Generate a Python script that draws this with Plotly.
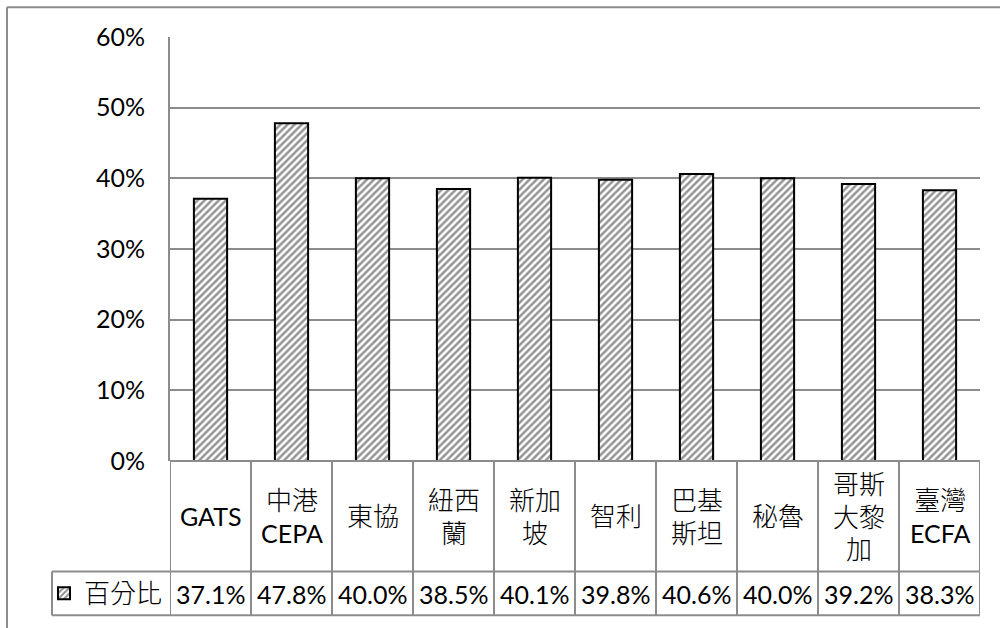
import re
import plotly.graph_objects as go

# Service-sector liberalisation share by agreement
categories = ["GATS", "中港<br>CEPA", "東協", "紐西<br>蘭", "新加<br>坡", "智利",
              "巴基<br>斯坦", "秘魯", "哥斯<br>大黎<br>加", "臺灣<br>ECFA"]
values = [37.1, 47.8, 40.0, 38.5, 40.1, 39.8, 40.6, 40.0, 39.2, 38.3]
series_name = "百分比"
y_ticks = [0, 10, 20, 30, 40, 50, 60]

FONT = "Lato, 'Noto Sans CJK TC', sans-serif"
FS = 25
GRAY = "#8c8c8c"

# layout geometry (plot area px)
PLOT_L, PLOT_R, PLOT_T, PLOT_B = 170, 980, 37, 463
W, H = 1000, 628
pw, ph = PLOT_R - PLOT_L, PLOT_B - PLOT_T


def px_x(x):
    return (x - PLOT_L) / pw


def px_y(y):
    return (PLOT_B - y) / ph


def light_cjk(text):
    # render runs of CJK characters in a lighter, slightly larger face
    return re.sub(r"([\u4e00-\u9fff]+)",
                  r'<span style="font-weight:300;font-size:26px">\1</span>', text)


xs = list(range(len(values)))

fig = go.Figure()
fig.add_trace(go.Bar(
    x=xs, y=[v / 100 for v in values], name=light_cjk(series_name),
    width=0.41,
    marker=dict(color="white",
                line=dict(color="black", width=2),
                pattern=dict(shape="/", fgcolor="#2a2a2a", bgcolor="white",
                             size=5, solidity=0.5)),
    showlegend=True,
))

shapes = []
row1_y = px_y(574)
row2_y = px_y(618)
legend_left = px_x(52)
line = dict(color=GRAY, width=2)

# data table: vertical separators at category boundaries
for i in range(len(values) + 1):
    shapes.append(dict(type="line", xref="x", yref="paper",
                       x0=i - 0.5, x1=i - 0.5, y0=0, y1=row2_y, line=line))
# data table: horizontal rules
shapes.append(dict(type="line", xref="paper", yref="paper",
                   x0=0, x1=1, y0=0, y1=0, line=line))
for yy in (row1_y, row2_y):
    shapes.append(dict(type="line", xref="paper", yref="paper",
                       x0=legend_left, x1=1, y0=yy, y1=yy, line=line))
shapes.append(dict(type="line", xref="paper", yref="paper",
                   x0=legend_left, x1=legend_left, y0=row1_y, y1=row2_y, line=line))
# chart area border (top and left edges)
shapes.append(dict(type="line", xref="paper", yref="paper",
                   x0=px_x(7), x1=px_x(1002), y0=px_y(7), y1=px_y(7), line=line))
shapes.append(dict(type="line", xref="paper", yref="paper",
                   x0=px_x(7), x1=px_x(7), y0=px_y(7), y1=px_y(632), line=line))

annotations = []
for x, c, v in zip(xs, categories, values):
    annotations.append(dict(x=x, y=px_y(518.5), xref="x", yref="paper",
                            text=light_cjk(c), showarrow=False,
                            xanchor="center", yanchor="middle",
                            font=dict(family=FONT, size=FS, color="black")))
    annotations.append(dict(x=x, y=px_y(597), xref="x", yref="paper",
                            text=f"{v:.1f}%", showarrow=False, xanchor="center",
                            yanchor="middle",
                            font=dict(family=FONT, size=FS, color="black")))

fig.update_layout(
    width=W, height=H,
    margin=dict(l=PLOT_L, r=W - PLOT_R, t=PLOT_T, b=H - PLOT_B, pad=0),
    paper_bgcolor="white", plot_bgcolor="white",
    font=dict(family=FONT, size=FS, color="black"),
    shapes=shapes, annotations=annotations,
    legend=dict(x=px_x(44), y=px_y(596), xanchor="left", yanchor="middle",
                bgcolor="rgba(0,0,0,0)", borderwidth=0,
                font=dict(family=FONT, size=FS, color="black"),
                itemwidth=30, tracegroupgap=0),
    xaxis=dict(range=[-0.5, len(values) - 0.5], showticklabels=False,
               showgrid=False, zeroline=False, showline=False),
    yaxis=dict(range=[0, 0.6], tickvals=[t / 100 for t in y_ticks],
               ticktext=[f"{t}%" for t in y_ticks],
               showgrid=True, gridcolor=GRAY, gridwidth=2,
               zeroline=False, showline=True, linecolor=GRAY, linewidth=2,
               ticks="", ticklabelstandoff=18,
               tickfont=dict(family=FONT, size=FS, color="black")),
    bargap=0.59,
)

fig.write_html("out.html")
